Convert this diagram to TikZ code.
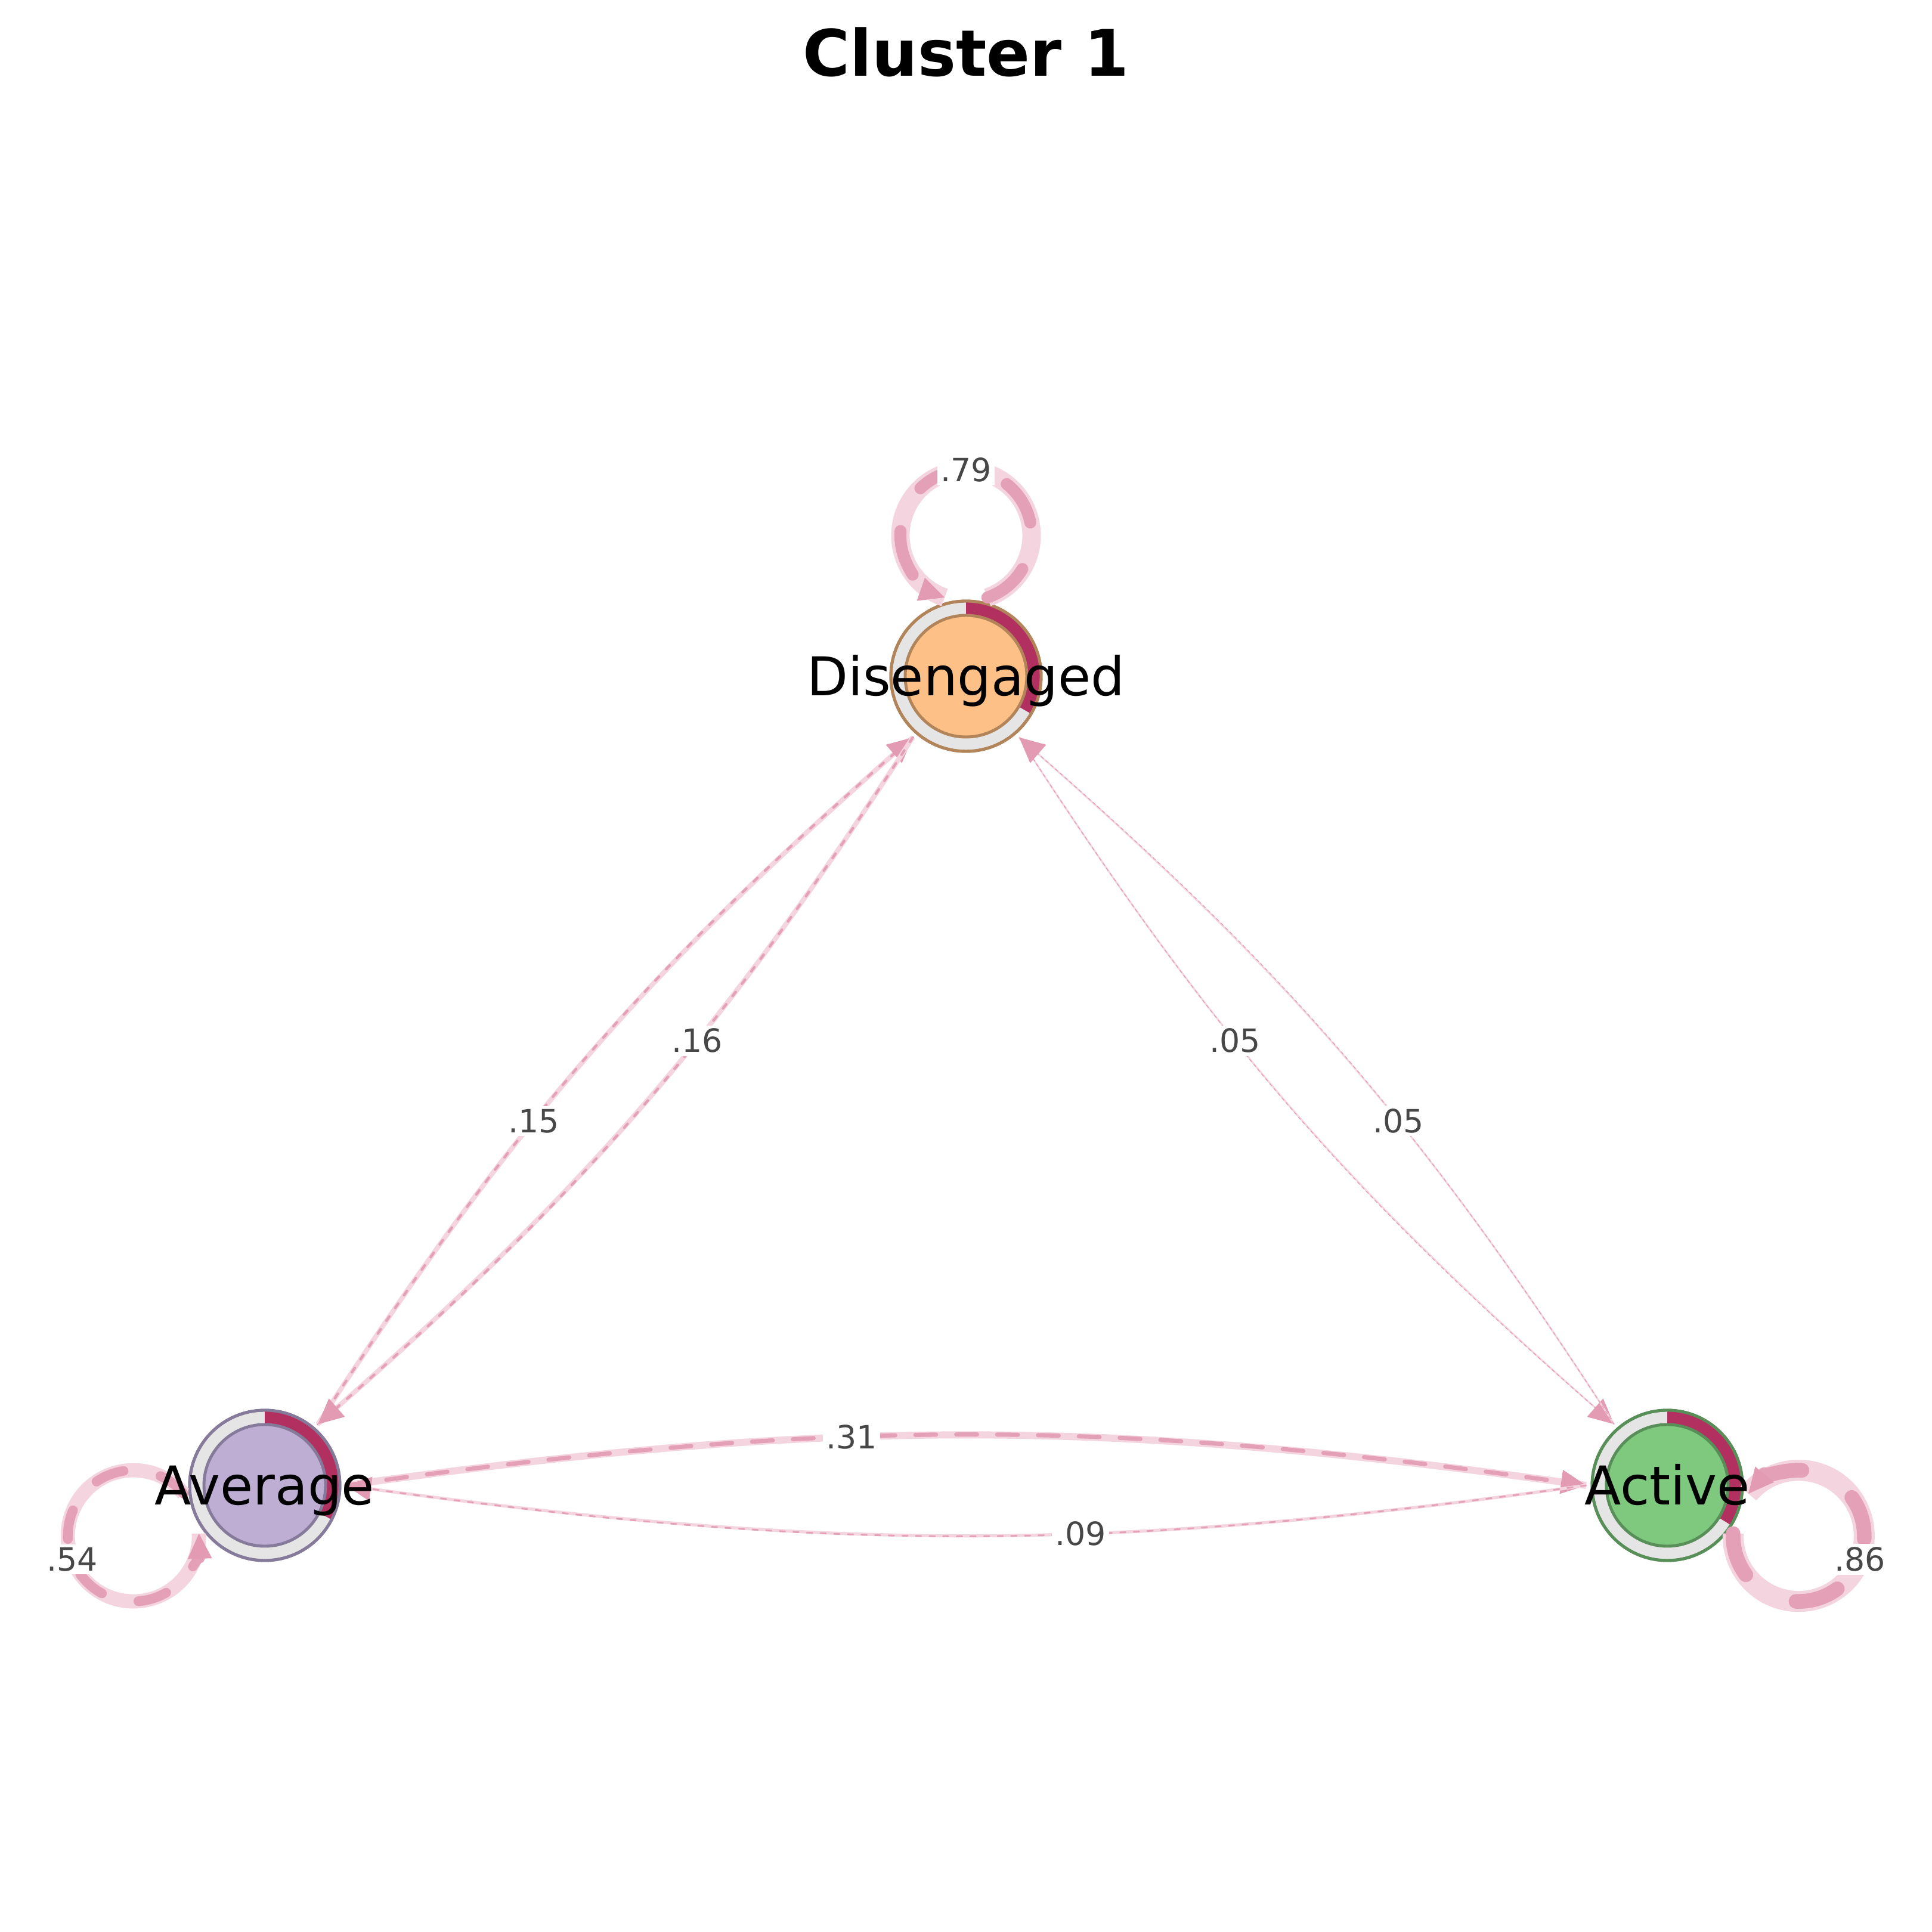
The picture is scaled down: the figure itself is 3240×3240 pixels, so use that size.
\documentclass[tikz,border=0pt]{standalone}
\usepackage{fontspec}
\setmainfont{DejaVu Sans}
\usepackage{tikz}
\usetikzlibrary{arrows.meta}
\definecolor{disfill}{HTML}{FDC086}
\definecolor{disline}{HTML}{B1845A}
\definecolor{avgfill}{HTML}{BEAED4}
\definecolor{avgline}{HTML}{857A9A}
\definecolor{actfill}{HTML}{7FC97F}
\definecolor{actline}{HTML}{588F58}
\definecolor{ringgray}{HTML}{E5E5E5}
\definecolor{ringred}{HTML}{B2305F}
\definecolor{trlight}{HTML}{F3D4DF}
\definecolor{trdark}{HTML}{E4A0B6}
\definecolor{trarrow}{HTML}{E39AB3}
\definecolor{lblgray}{HTML}{474747}

\begin{document}
\begin{tikzpicture}[x=0.1mm, y=0.1mm,
    state/.style={circle, minimum size=25.2mm, inner sep=0pt, outer sep=1mm,
        fill=ringgray, line width=1.4pt},
    ringline/.style={line width=1.4pt},
    statetext/.style={font=\fontsize{25.5}{30}\selectfont, anchor=base, yshift=-3.3mm},
    trlabel/.style={font=\fontsize{15.3}{18}\selectfont, text=lblgray, fill=white,
        inner sep=1.5pt},
    tr/.style n args={4}{preaction={draw=trlight, line width=#1, solid, -},
        draw=trdark, line width=#2, line cap=round, dash pattern=on #3 off #4,
        -{Triangle[length=12pt, width=11.5pt, line width=0.5pt, color=trarrow]}}]

    \path[fill=white] (0,0) rectangle (3240,3240);

    % states with their rings
    \node[state, draw=disline] (dis) at (1620,2106) {};
    \fill[ringred, shift={(dis.center)}] (90:126) arc[start angle=90, end angle=-30, radius=126]
        -- (-30:102) arc[start angle=-30, end angle=90, radius=102] -- cycle;
    \draw[disline, ringline, shift={(dis.center)}] (0,0) circle (126);
    \filldraw[fill=disfill, draw=disline, ringline, shift={(dis.center)}] (0,0) circle (102);

    \node[state, draw=avgline] (avg) at (444,749) {};
    \fill[ringred, shift={(avg.center)}] (90:126) arc[start angle=90, end angle=-27, radius=126]
        -- (-27:102) arc[start angle=-27, end angle=90, radius=102] -- cycle;
    \draw[avgline, ringline, shift={(avg.center)}] (0,0) circle (126);
    \filldraw[fill=avgfill, draw=avgline, ringline, shift={(avg.center)}] (0,0) circle (102);

    \node[state, draw=actline] (act) at (2796,749) {};
    \fill[ringred, shift={(act.center)}] (90:126) arc[start angle=90, end angle=-32, radius=126]
        -- (-32:102) arc[start angle=-32, end angle=90, radius=102] -- cycle;
    \draw[actline, ringline, shift={(act.center)}] (0,0) circle (126);
    \filldraw[fill=actfill, draw=actline, ringline, shift={(act.center)}] (0,0) circle (102);

    % transitions
    \draw[tr={3.4pt}{2pt}{9.9pt}{9.6pt}] (avg.0) to[bend left=8]
        node[trlabel, pos=.4] (l31) {.31} (act.180);
    \draw[tr={1.5pt}{0.8pt}{2.6pt}{3.9pt}] (act.180) to[bend left=8]
        node[trlabel, pos=.4] (l09) {.09} (avg.0);
    \draw[tr={2.3pt}{1.2pt}{2.5pt}{4.9pt}] (avg.49) to[bend left=8]
        node[trlabel, pos=.4] (l15) {.15} (dis.229);
    \draw[tr={2.3pt}{1.2pt}{2.5pt}{4.9pt}] (dis.229) to[bend left=8]
        node[trlabel, pos=.4] (l16) {.16} (avg.49);
    \draw[tr={0.8pt}{0.4pt}{1.5pt}{1.5pt}] (dis.311) to[bend right=8]
        node[trlabel, pos=.4] (l05a) {.05} (act.131);
    \draw[tr={0.8pt}{0.4pt}{1.5pt}{1.5pt}] (act.131) to[bend right=8]
        node[trlabel, pos=.4] (l05b) {.05} (dis.311);

    % self loops
    \draw[tr={8.8pt}{5.7pt}{22pt}{23pt}, shift={(dis.center)}]
        (35.8,132.0) arc[start angle=-71, end angle=251, radius=110];
    \node[trlabel] (l79) at ([shift={(0,346)}]dis.center) {.79};
    \draw[tr={10pt}{7pt}{21pt}{28pt}, shift={(act.center)}]
        (110.4,-80.8) arc[start angle=-182, end angle=140, radius=110];
    \node[trlabel] (l86) at ([shift={(323,-124)}]act.center) {.86};
    \draw[tr={6.8pt}{4.6pt}{14pt}{18pt}, shift={(avg.center)}]
        (-136.0,-13.9) arc[start angle=40, end angle=362, radius=110];
    \node[trlabel] (l54) at ([shift={(-323,-124)}]avg.center) {.54};

    % state names and title
    \node[statetext] (dis-txt) at (dis) {Disengaged};
    \node[statetext] (avg-txt) at (avg) {Average};
    \node[statetext] (act-txt) at (act) {Active};
    \node[font=\fontsize{30.6}{36}\selectfont\bfseries, anchor=base] (title) at (1620,3112) {Cluster 1};
\end{tikzpicture}
\end{document}
